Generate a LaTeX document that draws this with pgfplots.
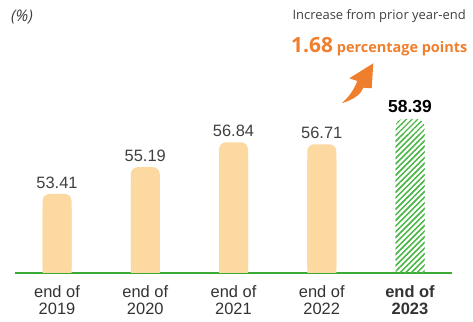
\documentclass[border=0pt]{standalone}
\usepackage{pgfplots}
\usepackage{pgfplotstable}
\pgfplotsset{compat=1.18}
\usetikzlibrary{patterns.meta}
\usepackage{fontspec}
\setmainfont{Liberation Sans}
\newfontfamily\osans{Open Sans}
\definecolor{barfill}{HTML}{FBD9A1}
\definecolor{hatchgreen}{HTML}{4DB848}
\definecolor{basegreen}{HTML}{3AAA35}
\definecolor{accent}{HTML}{F07F2D}
\definecolor{txtgray}{HTML}{404040}
\definecolor{lblgray}{HTML}{333333}
\pgfplotstableread{
x v
0 53.41
1 55.19
2 56.84
3 56.71
}\pastyears
\pgfplotstableread{
x v
4 58.39
}\latest
\begin{document}
\begin{tikzpicture}
\useasboundingbox (0,0) rectangle (473bp,322bp);
\begin{axis}[
  at={(15bp,49bp)}, anchor=south west,
  scale only axis, width=437bp, height=273bp,
  xmin=-0.476, xmax=4.476, ymin=48.16, ymax=66.29,
  axis x line*=bottom, axis y line=none,
  x axis line style={draw=basegreen, line width=1.4bp, -},
  xtick={0,1,2,3,4}, major tick length=0pt, ytick=\empty,
  xticklabels={{end of\\2019},{end of\\2020},{end of\\2021},{end of\\2022},{\textbf{end of}\\\textbf{2023}}},
  xticklabel style={font=\fontsize{16.5}{17}\selectfont, align=center, text=lblgray, yshift=-9bp},
  /pgf/number format/assume math mode=true,
  /pgf/number format/.cd, fixed, fixed zerofill, precision=2,
]
% lower (square-cornered) parts so that only the tops are rounded
\addplot[ybar, bar width=29bp, bar shift=0pt, fill=barfill, draw=none]
  table[x=x, y expr=\thisrow{v}-1] {\pastyears};
\addplot[ybar, bar width=29bp, bar shift=0pt, draw=none,
  pattern={Lines[angle=45, distance=4bp, line width=1.3bp]}, pattern color=hatchgreen]
  table[x=x, y expr=\thisrow{v}-1] {\latest};
% full bars with rounded tops and value labels
\addplot[ybar, bar width=29bp, bar shift=0pt, fill=barfill, draw=none, rounded corners=7bp,
  nodes near coords,
  every node near coord/.append style={font=\fontsize{16.5}{17}\selectfont, text=txtgray, anchor=south, yshift=2bp}]
  table[x=x, y=v] {\pastyears};
\addplot[ybar, bar width=29bp, bar shift=0pt, draw=none, rounded corners=8bp,
  pattern={Lines[angle=45, distance=4bp, line width=1.3bp]}, pattern color=hatchgreen,
  nodes near coords,
  every node near coord/.append style={font=\bfseries\fontsize{17.5}{17.5}\selectfont, text=black, anchor=south, yshift=3bp}]
  table[x=x, y=v] {\latest};
\end{axis}
\node[anchor=west, inner sep=0pt, text=txtgray, font=\osans\itshape\fontsize{16}{16}\selectfont] at (11bp,305bp) {(\%)};
\node[anchor=base east, inner sep=0pt, text=txtgray, font=\osans\fontsize{13}{13}\selectfont] at (466bp,302bp) {Increase from prior year-end};
\node[anchor=base west, inner sep=0pt, text=accent, font=\osans\bfseries] at (291bp,269bp) {\fontsize{21}{21}\selectfont 1.68\hspace{4bp}\fontsize{14.5}{14.5}\selectfont percentage points};
\fill[accent] (341.7bp,218.7bp) .. controls (355bp,223bp) and (361bp,228bp) .. (363.3bp,234.3bp) -- (371.7bp,233.7bp) -- (373.3bp,258.7bp) -- (349.3bp,243.7bp) -- (357.3bp,241bp) .. controls (354bp,232bp) and (348bp,224bp) .. cycle;
\end{tikzpicture}
\end{document}
